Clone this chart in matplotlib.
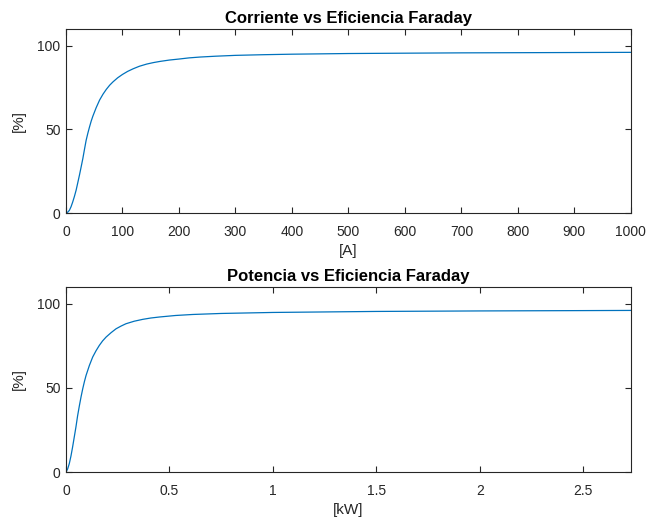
import matplotlib
matplotlib.use("Agg")
import matplotlib.pyplot as plt

plt.rcParams['font.family'] = ['Liberation Sans', 'DejaVu Sans']

# Corriente [A] vs eficiencia Faraday [%]
corriente = [0, 3, 6, 9, 11.9, 14.9, 17.9, 20.8, 23.8, 26.8, 29.8, 32.7, 35.7, 38.7,
             41.7, 44.6, 47.6, 53.5, 59.5, 65.5, 71.4, 77.4, 83.3, 91.5,
             100, 109, 119, 130, 142.9, 155, 166.7, 183, 200, 218, 237.5, 265,
             300, 350, 400, 500, 600, 700, 800, 900, 1000]
ef_corriente = [0, 0.5, 1.6, 3.8, 6.6, 9.9, 13.6, 18.0, 22.6, 27.5, 32.5, 38.0, 43.5, 47.7,
                51.5, 54.9, 57.9, 63.0, 67.5, 71.0, 73.9, 76.4, 78.4, 80.8,
                82.8, 84.6, 86.2, 87.7, 89.0, 89.9, 90.6, 91.4, 92.0, 92.7, 93.2, 93.7,
                94.2, 94.6, 94.9, 95.3, 95.5, 95.7, 95.8, 95.9, 96.0]

# Potencia [kW] vs eficiencia Faraday [%]
potencia = [0, 0.008, 0.016, 0.024, 0.032, 0.040, 0.048, 0.056, 0.065, 0.073, 0.081,
            0.089, 0.097, 0.113, 0.129, 0.145, 0.161, 0.177, 0.194, 0.218, 0.242,
            0.266, 0.290, 0.330, 0.371, 0.41, 0.452, 0.53, 0.613, 0.75, 1.0,
            1.25, 1.5, 2.0, 2.5, 2.73]
ef_potencia = [0, 1.8, 5.0, 9.5, 14.9, 20.8, 26.7, 33.3, 39.6, 44.8, 49.5,
               53.7, 57.4, 63.3, 68.3, 72.0, 75.2, 77.9, 80.2, 82.8, 85.1,
               86.7, 88.1, 89.6, 90.7, 91.5, 92.1, 93.0, 93.6, 94.2, 94.8,
               95.1, 95.4, 95.7, 95.9, 96.0]

line_color = '#0072BD'
axis_color = '#262626'

fig = plt.figure(figsize=(6.47, 5.23), dpi=100)
ax1 = fig.add_axes([0.102, 0.5927, 0.873, 0.352])
ax2 = fig.add_axes([0.102, 0.0975, 0.873, 0.354])

def style(ax):
    for s in ax.spines.values():
        s.set_color(axis_color)
        s.set_linewidth(0.8)
    ax.tick_params(direction='in', top=True, right=True, colors=axis_color,
                   labelsize=10, length=4, width=0.8, labelcolor=axis_color)
    ax.tick_params(axis='x', pad=8.5)
    ax.tick_params(axis='y', pad=4)

ax1.plot(corriente, ef_corriente, color=line_color, lw=0.9)
ax1.set_xlim(0, 1000)
ax1.set_ylim(0, 110)
ax1.set_xticks(range(0, 1001, 100))
ax1.set_yticks([0, 50, 100])
ax1.set_title('Corriente vs Eficiencia Faraday', fontsize=12, fontweight='bold', pad=4.5)
ax1.set_xlabel('[A]', fontsize=11, color=axis_color, labelpad=4)
ax1.set_ylabel('[%]', fontsize=11, color=axis_color, labelpad=8)
style(ax1)

ax2.plot(potencia, ef_potencia, color=line_color, lw=0.9)
ax2.set_xlim(0, 2.73)
ax2.set_ylim(0, 110)
ax2.set_xticks([0, 0.5, 1, 1.5, 2, 2.5])
ax2.set_xticklabels(['0', '0.5', '1', '1.5', '2', '2.5'])
ax2.set_yticks([0, 50, 100])
ax2.set_title('Potencia vs Eficiencia Faraday', fontsize=12, fontweight='bold', pad=4.5)
ax2.set_xlabel('[kW]', fontsize=11, color=axis_color, labelpad=4)
ax2.set_ylabel('[%]', fontsize=11, color=axis_color, labelpad=8)
style(ax2)

fig.savefig('out.png', dpi=100, facecolor='white')
